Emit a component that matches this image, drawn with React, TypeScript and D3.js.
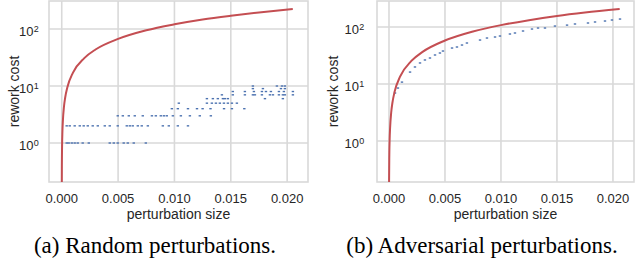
import React from "react";
import * as d3 from "d3";

// ---- data ----
const xTicks = [0, 0.005, 0.01, 0.015, 0.02];
const xTickLabels = ["0.000", "0.005", "0.010", "0.015", "0.020"];
const yTicks = [1, 10, 100];
const yTickExps = ["0", "1", "2"];

// (a) random perturbations: bound curve
const boundAX = [0.000003, 0.00001, 0.00003, 0.00006, 0.0001, 0.0002, 0.0003, 0.0005, 0.001, 0.002, 0.003, 0.005, 0.0075, 0.01, 0.0125, 0.015, 0.0175, 0.0205];
const boundAY = [0.12, 0.34, 0.87, 1.57, 2.42, 4.37, 6.16, 9.5, 17.2, 30.9, 43.7, 67, 95, 121, 147, 171, 195, 224];

// (a) scatter: rework cost (integer) vs perturbation size
const randCost1 = [0.00044, 0.00062, 0.00089, 0.00115, 0.00142, 0.00186, 0.0024, 0.00426, 0.00462, 0.00497, 0.0055, 0.00586, 0.00639, 0.00746];
const randCost2 = [0.00044, 0.00071, 0.00115, 0.0016, 0.00195, 0.00231, 0.00275, 0.0032, 0.00382, 0.00426, 0.00497, 0.00577, 0.00604, 0.0063, 0.00675, 0.0071, 0.00764, 0.00897, 0.0095, 0.0103, 0.0112];
const randCost3 = [0.00497, 0.00542, 0.00595, 0.00648, 0.00719, 0.008, 0.00835, 0.00879, 0.00906, 0.00932, 0.00986, 0.01057, 0.01137, 0.01225, 0.01323];
const randCost4 = [0.00977, 0.0103, 0.0112, 0.012, 0.0125, 0.0132, 0.0144, 0.0151, 0.0162];
const randCost5 = [0.01039, 0.01288, 0.01332, 0.01368, 0.01403, 0.01439, 0.01474, 0.0151, 0.01554];
const randCost6 = [0.01288, 0.01341, 0.01385, 0.0143, 0.01447, 0.01474, 0.01803, 0.01962];
const randCost7 = [0.01421, 0.01518, 0.01625, 0.01696, 0.01714, 0.01776, 0.01847, 0.01874, 0.01927, 0.01962, 0.0198, 0.02051];
const randCost8 = [0.01518, 0.01625, 0.01705, 0.01776, 0.01812, 0.01856, 0.01927, 0.01971, 0.02051];
const randCost9 = [0.01696, 0.01785, 0.01945, 0.0198];
const randCost10 = [0.01696, 0.01909, 0.01954, 0.0198];
const randRows = [randCost1, randCost2, randCost3, randCost4, randCost5, randCost6, randCost7, randCost8, randCost9, randCost10];

// (b) adversarial perturbations: bound curve
const boundBX = [0.000003, 0.00001, 0.00003, 0.00006, 0.0001, 0.0002, 0.0003, 0.0005, 0.001, 0.002, 0.003, 0.005, 0.0075, 0.01, 0.0125, 0.015, 0.0175, 0.0206];
const boundBY = [0.07, 0.216, 0.58, 1.08, 1.71, 3.2, 4.6, 7.3, 13.6, 25.4, 36.6, 57.9, 83.5, 108, 132, 156, 179, 207];

// (b) scatter
const advX = [0.00054, 0.0008, 0.00116, 0.00188, 0.00232, 0.00277, 0.00321, 0.00366, 0.00411, 0.00455, 0.00482, 0.00563, 0.00607, 0.00652, 0.00696, 0.00813, 0.00875, 0.00947, 0.00991, 0.0108, 0.01125, 0.01197, 0.01277, 0.01331, 0.01393, 0.01482, 0.0159, 0.01661, 0.01777, 0.0184, 0.01929, 0.01991, 0.02063];
const advY = [6.95, 8.5, 10.8, 16.2, 19.9, 23.4, 26.4, 28.6, 32.3, 35, 37.9, 42.8, 44.6, 48.3, 52.4, 59.1, 64.1, 66.8, 69.5, 75.4, 78.5, 85.1, 92.2, 96, 96, 104, 108, 113, 117.6, 122.5, 127.4, 132.7, 138];

const captions = ["(a) Random perturbations.", "(b) Adversarial perturbations."];

const GRID = "#d9d9d9";
const TEXT = "#262626";
const RED = "#c44e52";
const BLUE = "#4c72b0";
const SANS = "'Liberation Sans', Arial, sans-serif";
const SERIF = "'Liberation Serif', 'Times New Roman', serif";

type PanelProps = {
  id: string;
  x0: number; x1: number; y0: number; y1: number;
  xDomain: [number, number];
  yDomain: [number, number];
  curveX: number[]; curveY: number[];
  pts: { x: number; y: number }[];
  ylabelX: number;
  ytickGap: number;
  caption: string;
  captionX: number;
};

function Panel(p: PanelProps) {
  const xs = d3.scaleLinear().domain(p.xDomain).range([p.x0, p.x1]);
  const ys = d3.scaleLog().domain(p.yDomain).range([p.y1, p.y0]);
  const line = d3
    .line<number>()
    .x((_, i) => xs(p.curveX[i]))
    .y((d) => ys(d))
    .curve(d3.curveMonotoneX);
  const cy = (p.y0 + p.y1) / 2;
  return (
    <g>
      <defs>
        <clipPath id={p.id}>
          <rect x={p.x0} y={p.y0} width={p.x1 - p.x0} height={p.y1 - p.y0} />
        </clipPath>
      </defs>
      {xTicks.map((t) => (
        <line key={"gx" + t} x1={xs(t)} x2={xs(t)} y1={p.y0} y2={p.y1} stroke={GRID} strokeWidth={1.6} />
      ))}
      {yTicks.map((t) => (
        <line key={"gy" + t} x1={p.x0} x2={p.x1} y1={ys(t)} y2={ys(t)} stroke={GRID} strokeWidth={1.6} />
      ))}
      <rect x={p.x0} y={p.y0} width={p.x1 - p.x0} height={p.y1 - p.y0} fill="none" stroke={GRID} strokeWidth={1.6} />
      <g clipPath={`url(#${p.id})`}>
        {p.pts.map((d, i) => (
          <rect key={i} x={xs(d.x) - 1.2} y={ys(d.y) - 0.7} width={2.4} height={1.4} fill={BLUE} />
        ))}
        <path d={line(p.curveY) || ""} fill="none" stroke={RED} strokeWidth={2} />
      </g>
      {xTicks.map((t, i) => (
        <text key={"tx" + t} x={xs(t)} y={p.y1 + 21} textAnchor="middle" fontFamily={SANS} fontSize={13} fill={TEXT}>
          {xTickLabels[i]}
        </text>
      ))}
      {yTicks.map((t, i) => (
        <g key={"ty" + t}>
          <text x={p.x0 - p.ytickGap} y={ys(t) + 7} textAnchor="end" fontFamily={SANS} fontSize={13} fill={TEXT}>
            10
          </text>
          <text x={p.x0 - p.ytickGap + 0.3} y={ys(t) + 3} textAnchor="start" fontFamily={SANS} fontSize={9} fill={TEXT}>
            {yTickExps[i]}
          </text>
        </g>
      ))}
      <text x={(p.x0 + p.x1) / 2} y={p.y1 + 37} textAnchor="middle" fontFamily={SANS} fontSize={14} fill={TEXT}>
        perturbation size
      </text>
      <text
        transform={`translate(${p.ylabelX},${cy}) rotate(-90)`}
        textAnchor="middle"
        dominantBaseline="central"
        fontFamily={SANS}
        fontSize={14}
        fill={TEXT}
      >
        rework cost
      </text>
      <text x={p.captionX} y={253} textAnchor="middle" fontFamily={SERIF} fontSize={23} fill="#000">
        {p.caption}
      </text>
    </g>
  );
}

export default function App() {
  const ptsA: { x: number; y: number }[] = [];
  randRows.forEach((row, i) => row.forEach((x) => ptsA.push({ x, y: i + 1 })));
  const ptsB = advX.map((x, i) => ({ x, y: advY[i] }));
  return (
    <svg width={636} height={262} style={{ position: "absolute", left: 0, top: 0, background: "#fff" }}>
      <Panel
        id="clipA"
        x0={49} x1={308} y0={1} y1={182}
        xDomain={[-0.00113, 0.02185]}
        yDomain={[0.207, 310]}
        curveX={boundAX} curveY={boundAY}
        pts={ptsA}
        ylabelX={13.5}
        ytickGap={15.5}
        caption={captions[0]}
        captionX={155}
      />
      <Panel
        id="clipB"
        x0={377} x1={634} y0={1} y1={182}
        xDomain={[-0.00107, 0.02188]}
        yDomain={[0.191, 286]}
        curveX={boundBX} curveY={boundBY}
        pts={ptsB}
        ylabelX={333}
        ytickGap={18}
        caption={captions[1]}
        captionX={482}
      />
    </svg>
  );
}
